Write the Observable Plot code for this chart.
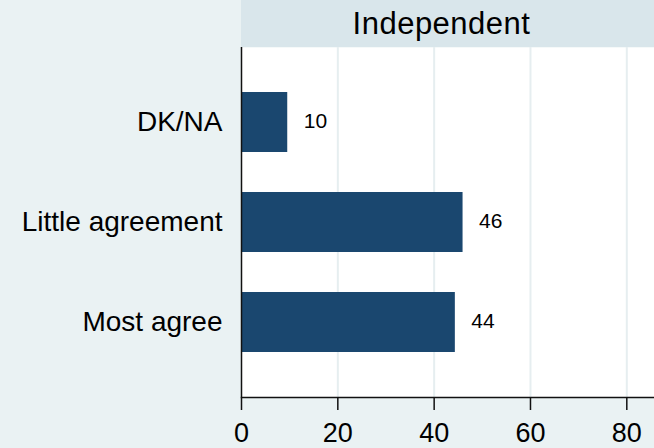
<!DOCTYPE html>
<html>
<head>
<meta charset="utf-8">
<script src="https://cdn.jsdelivr.net/npm/d3@7"></script>
<script src="https://cdn.jsdelivr.net/npm/@observablehq/plot@0.6"></script>
<style>
  html, body { margin: 0; padding: 0; background: #EAF2F3; }
  body { width: 654px; height: 448px; overflow: hidden; font-family: "Liberation Sans", Arial, sans-serif; }
  #strip { margin-left: 241px; width: 413px; height: 47px; background: #D9E6EB; text-align: center;
           font-size: 31px; line-height: 47px; color: #000; letter-spacing: 0.5px; }
  #strip span { position: relative; left: -6px; }
</style>
</head>
<body>
<div id="strip"><span id="stripText"></span></div>
<div id="chart"></div>
<script>
const panelTitle = "Independent";
const categories = ["DK/NA", "Little agreement", "Most agree"];
const values = [9.6, 46.0, 44.4];
const valueLabels = ["10", "46", "44"];
const xTicks = [0, 20, 40, 60, 80];

document.getElementById("stripText").textContent = panelTitle;

const data = categories.map((c, i) => ({cat: c, value: values[i], label: valueLabels[i]}));

const chart = Plot.plot({
  width: 654,
  height: 401,
  marginLeft: 241,
  marginRight: 0,
  marginTop: 0,
  marginBottom: 51,
  style: {background: "#EAF2F3", fontFamily: "'Liberation Sans', Arial, sans-serif", color: "#000", overflow: "visible"},
  x: {domain: [0, 85.75]},
  y: {domain: categories, paddingInner: 0.4, paddingOuter: 0.44},
  marks: [
    Plot.frame({fill: "white", stroke: null}),
    Plot.gridX(xTicks.slice(1), {stroke: "#E6EEF0", strokeWidth: 2, strokeOpacity: 1}),
    Plot.barX(data, {x: "value", y: "cat", fill: "#1A476F"}),
    Plot.text(data, {x: "value", y: "cat", text: "label", dx: 16, dy: -1, textAnchor: "start", fontSize: 21, fill: "#000"}),
    Plot.ruleX([0], {stroke: "#111", strokeWidth: 1.5}),
    Plot.frame({anchor: "bottom", stroke: "#111", strokeWidth: 1.5}),
    Plot.axisX(xTicks, {anchor: "bottom", tickSize: 13, tickPadding: 12, fontSize: 27, label: null, stroke: "#111", strokeWidth: 1.5}),
    Plot.axisY({anchor: "left", tickSize: 0, tickPadding: 19, fontSize: 28, label: null})
  ]
});
document.getElementById("chart").appendChild(chart);
</script>
</body>
</html>
